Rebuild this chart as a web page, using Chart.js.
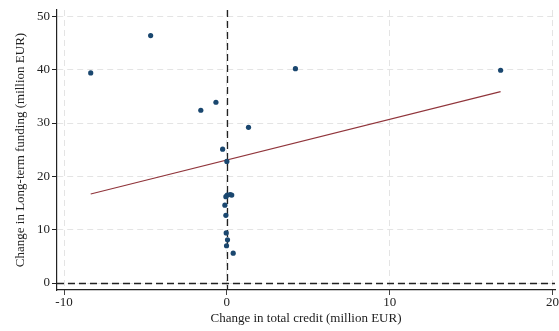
<!DOCTYPE html>
<html>
<head>
<meta charset="utf-8">
<script src="https://cdn.jsdelivr.net/npm/chart.js@4/dist/chart.umd.min.js"></script>
<style>
  html, body { margin: 0; padding: 0; background: #fff; }
  #wrap { width: 559px; height: 331px; }
</style>
</head>
<body>
<div id="wrap"><canvas id="c" width="559" height="331"></canvas></div>
<script>
// Bank-level changes (million EUR)
const creditChange  = [-8.36, -4.68, -0.67, -1.60, 1.33, 4.21, 16.81, -0.26, 0.00, 0.02, 0.20, -0.06, 0.30, -0.12, -0.06, -0.04, 0.04, -0.02, 0.39];
const fundingChange = [39.4, 46.4, 33.9, 32.4, 29.2, 40.2, 39.9, 25.1, 22.8, 16.5, 16.6, 16.2, 16.5, 14.6, 12.7, 9.4, 8.1, 7.0, 5.6];

// Fitted linear trend, endpoints
const fitX = [-8.36, 16.81];
const fitY = [16.7, 35.9];

const xTicks = [-10, 0, 10, 20];
const yTicks = [0, 10, 20, 30, 40, 50];

const FONT = "'Liberation Serif', 'Times New Roman', serif";
const TEXT = '#222';

const points = creditChange.map((x, i) => ({ x, y: fundingChange[i] }));
const fitLine = fitX.map((x, i) => ({ x, y: fitY[i] }));

// Dashed reference lines at zero on both axes
const zeroLines = {
  id: 'zeroLines',
  beforeDatasetsDraw(chart) {
    const { ctx, chartArea: a, scales: { x, y } } = chart;
    ctx.save();
    ctx.strokeStyle = '#222';
    ctx.lineWidth = 1.3;
    ctx.setLineDash([7, 4]);
    const px = Math.round(x.getPixelForValue(0)) + 0.5;
    ctx.beginPath(); ctx.moveTo(px, a.top); ctx.lineTo(px, a.bottom); ctx.stroke();
    const py = Math.round(y.getPixelForValue(0)) + 0.5;
    ctx.beginPath(); ctx.moveTo(a.left, py); ctx.lineTo(a.right, py); ctx.stroke();
    ctx.restore();
  }
};

const gridOpts = {
  color: '#e4e4e4',
  lineWidth: 1,
  drawTicks: true,
  tickLength: 5,
  tickColor: '#222',
  tickWidth: 1,
  tickBorderDash: [1, 0]
};

new Chart(document.getElementById('c'), {
  type: 'scatter',
  data: {
    datasets: [
      {
        type: 'line',
        data: fitLine,
        borderColor: '#90353b',
        borderWidth: 1.2,
        pointRadius: 0,
        fill: false,
        order: 2
      },
      {
        data: points,
        backgroundColor: '#1a476f',
        borderColor: '#1a476f',
        pointRadius: 2.6,
        pointBorderWidth: 0,
        order: 1
      }
    ]
  },
  options: {
    responsive: false,
    animation: false,
    events: [],
    layout: { padding: { top: 10, right: 0, left: 13, bottom: 0 } },
    plugins: { legend: { display: false }, tooltip: { enabled: false } },
    scales: {
      x: {
        type: 'linear',
        min: -10.43,
        max: 20.15,
        afterBuildTicks(s) { s.ticks = xTicks.map(v => ({ value: v })); },
        afterFit(s) { s.height = 41; s.paddingRight = 0; s.paddingLeft = 0; },
        ticks: { color: TEXT, font: { family: FONT, size: 13 }, padding: 0, maxRotation: 0 },
        grid: gridOpts,
        border: { display: true, color: '#222', width: 1.2, dash: [6, 4] },
        title: {
          display: true,
          text: 'Change in total credit (million EUR)',
          color: TEXT,
          font: { family: FONT, size: 13 },
          padding: { top: 0, bottom: 5 }
        }
      },
      y: {
        type: 'linear',
        min: -1.3,
        max: 51.2,
        afterBuildTicks(s) { s.ticks = yTicks.map(v => ({ value: v })); },
        afterFit(s) { s.width = 44; },
        ticks: { color: TEXT, font: { family: FONT, size: 13 }, padding: 2 },
        grid: gridOpts,
        border: { display: true, color: '#222', width: 1.2, dash: [6, 4] },
        title: {
          display: true,
          text: 'Change in Long-term funding (million EUR)',
          color: TEXT,
          font: { family: FONT, size: 13 },
          padding: { top: 0, bottom: 0 }
        }
      }
    }
  },
  plugins: [zeroLines]
});
</script>
</body>
</html>
